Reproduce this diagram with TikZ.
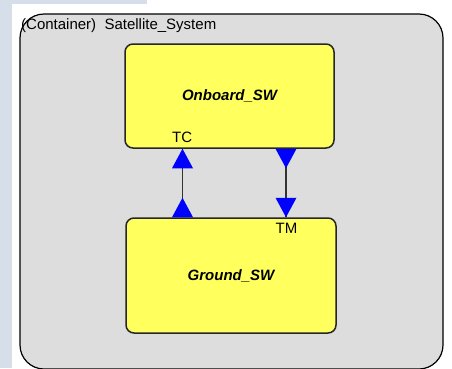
\documentclass[tikz,border=0pt]{standalone}
\usepackage{fontspec}
\setmainfont{Liberation Sans}
\definecolor{pageblue}{HTML}{D5DEE9}
\definecolor{containergrey}{HTML}{DDDDDD}
\definecolor{swyellow}{HTML}{FFFF5E}
\definecolor{portblue}{HTML}{0000FF}
\begin{document}
\begin{tikzpicture}[x=1pt,y=-1pt,
  every node/.style={font=\fontsize{15}{17}\selectfont, inner sep=0pt},
  container/.style={draw=black, line width=1.2pt, fill=containergrey, rounded corners=24pt},
  swbox/.style={draw=black!85, line width=1.5pt, fill=swyellow, rounded corners=8pt,
                font=\fontsize{15}{17}\selectfont\bfseries\itshape},
  link/.style={draw=black!80, line width=1.3pt},
  porttip/.style={fill=portblue}
]
% page frame
\useasboundingbox (0,0) rectangle (452,368);
\fill[white] (0,0) rectangle (452,368);
\fill[pageblue] (0,0) rectangle (12,368);
\fill[pageblue] (0,0) rectangle (147,4);

% container
\path[container] (20,14) rectangle (443,369);
\node[anchor=base west] (ctitle) at (21,29) {(Container)\ \ Satellite\_System};

% software blocks
\node[swbox, minimum width=209pt, minimum height=104pt] (onboard) at (229.5,96) {Onboard\_SW};
\node[swbox, minimum width=210pt, minimum height=115pt] (ground) at (231,275.5) {Ground\_SW};

% port labels
\node[anchor=base west] (tc) at (172,142) {TC};
\node[anchor=base west] (tm) at (275.5,233) {TM};

% connector columns
\coordinate (tcx) at (182.5,0);
\coordinate (tmx) at (286,0);
\coordinate (tcfrom) at (ground.north -| tcx);
\coordinate (tcto) at (onboard.south -| tcx);
\coordinate (tmfrom) at (onboard.south -| tmx);
\coordinate (tmto) at (ground.north -| tmx);

% TC: ground -> onboard
\draw[link] (tcfrom) -- (tcto);
\fill[porttip] (tcfrom) ++(-10.5,0) -- ++(10.5,-19.5) -- ++(10.5,19.5) -- cycle;
\fill[porttip] (tcto) -- ++(-10.5,19.5) -- ++(21,0) -- cycle;

% TM: onboard -> ground
\draw[link] (tmfrom) -- (tmto);
\fill[porttip] (tmfrom) ++(-10.5,0) -- ++(10.5,19.5) -- ++(10.5,-19.5) -- cycle;
\fill[porttip] (tmto) -- ++(-10.5,-19.5) -- ++(21,0) -- cycle;
\end{tikzpicture}
\end{document}
